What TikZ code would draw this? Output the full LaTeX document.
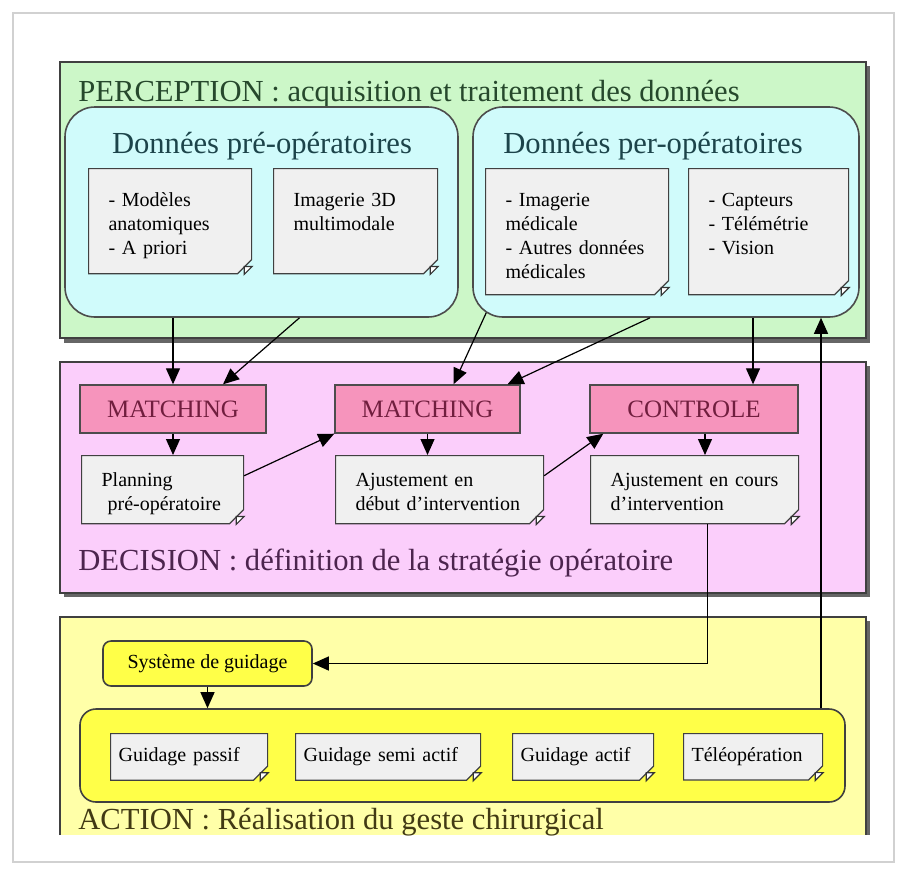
\documentclass[tikz,border=0pt]{standalone}
\usepackage{fontspec}
\setmainfont{Liberation Serif}
\usetikzlibrary{arrows.meta,shapes.misc}

\definecolor{percGreen}{RGB}{204,247,200}
\definecolor{dataCyan}{RGB}{208,251,251}
\definecolor{decPink}{RGB}{251,206,251}
\definecolor{stagePink}{RGB}{246,148,188}
\definecolor{actYellow}{RGB}{255,255,168}
\definecolor{modeYellow}{RGB}{255,255,72}
\definecolor{paperGray}{RGB}{240,240,240}
\definecolor{percText}{RGB}{38,72,44}
\definecolor{dataText}{RGB}{28,68,74}
\definecolor{decText}{RGB}{76,36,78}
\definecolor{stageText}{RGB}{112,30,62}
\definecolor{actText}{RGB}{66,58,20}

\tikzset{
  arr/.style={-{Triangle[length=8pt,width=7pt]}, line width=0.6pt},
  heading/.style={anchor=base west, inner sep=0pt, font=\fontsize{15.3}{18}\selectfont},
  notebox/.style={chamfered rectangle, chamfered rectangle corners=south east,
    chamfered rectangle xsep=4pt, draw=black!75, line width=0.6pt, fill=paperGray,
    anchor=north west, align=left, inner xsep=6pt, inner ysep=4pt,
    font=\fontsize{10}{12}\selectfont},
  stage/.style={draw=black!70, line width=0.7pt, fill=stagePink, text=stageText,
    minimum height=24pt, font=\fontsize{12.5}{14}\selectfont}
}

% page corner of a note
\newcommand{\curl}[1]{%
  \draw[black!80, fill=white, line width=0.6pt] ([xshift=-4pt]#1.south -| #1.east) -- ([yshift=4pt]#1.south -| #1.east)
    -- ([xshift=-4pt,yshift=4pt]#1.south -| #1.east) -- cycle;}

\begin{document}
\begin{tikzpicture}[x=0.5pt,y=-0.5pt]
    \useasboundingbox (0,0) rectangle (908,868);
    \fill[white] (0,0) rectangle (908,868);
    \draw[black!18, line width=1pt] (13,13) rectangle (894,862);

    % PERCEPTION
    \fill[black!60] (64,66) rectangle (870,343);
    \draw[black!75, line width=0.8pt, fill=percGreen] (60,62) rectangle (866,338);
    \node[heading, text=percText] (percT) at (78,101) {PERCEPTION : acquisition et traitement des données};

    \node[draw=black!70, line width=0.8pt, fill=dataCyan, rounded corners=15pt,
          minimum width=196.5pt, minimum height=105pt] (pre) at (261.5,212) {};
    \node[draw=black!70, line width=0.8pt, fill=dataCyan, rounded corners=15pt,
          minimum width=193pt, minimum height=105pt] (per) at (666,212) {};
    \node[anchor=base, text=dataText, font=\fontsize{15.3}{18}\selectfont] (preT) at (262,153) {Données pré-opératoires};
    \node[anchor=base, text=dataText, font=\fontsize{15.3}{18}\selectfont] (perT) at (653,153) {Données per-opératoires};

    \node[notebox, text width=61.5pt, text height=12pt, text depth=26.5pt] (anat) at (88,168) {- Modèles\\anatomiques\\- A priori};
    \node[notebox, text width=62pt, text height=12pt, text depth=26.5pt] (img3d) at (273,168) {Imagerie 3D\\multimodale};
    \node[notebox, text width=71.5pt, text height=12pt, text depth=37pt] (imgmed) at (485,168) {- Imagerie\\médicale\\- Autres données\\médicales};
    \node[notebox, text width=60pt, text height=12pt, text depth=37pt] (sens) at (688,168) {- Capteurs\\- Télémétrie\\- Vision};
    \curl{anat} \curl{img3d} \curl{imgmed} \curl{sens}

    % DECISION
    \fill[black!60] (64,366) rectangle (870,597);
    \draw[black!75, line width=0.8pt, fill=decPink] (60,362) rectangle (866,593);
    \node[heading, text=decText] (decT) at (78,570) {DECISION : définition de la stratégie opératoire};

    \node[stage, minimum width=93pt] (match1) at (173,409) {MATCHING};
    \node[stage, minimum width=92.5pt] (match2) at (427.5,409) {MATCHING};
    \node[stage, minimum width=104pt] (ctrl) at (694,409) {CONTROLE};

    \node[notebox, text width=61pt, text height=8.5pt, text depth=11.5pt] (plan) at (81,455) {Planning\\\hspace*{3pt}pré-opératoire};
    \node[notebox, text width=84pt, text height=8.5pt, text depth=11.5pt] (adjA) at (335,455) {Ajustement en\\début d'intervention};
    \node[notebox, text width=84pt, text height=8.5pt, text depth=11.5pt] (adjB) at (590,455) {Ajustement en cours\\d'intervention};
    \curl{plan} \curl{adjA} \curl{adjB}

    % ACTION
    \fill[black!60] (866,621) rectangle (870,835);
    \fill[actYellow] (60,617) rectangle (866,835);
    \draw[black!75, line width=0.8pt] (60,835) -- (60,617) -- (866,617) -- (866,835);
    \node[heading, text=actText] (actT) at (78,829) {ACTION : Réalisation du geste chirurgical};

    \node[draw=black!75, line width=0.8pt, fill=modeYellow, rounded corners=4pt,
          minimum width=104.5pt, minimum height=22.5pt, font=\fontsize{10}{12}\selectfont] (guide) at (207.5,663.5) {Système de guidage};
    \node[draw=black!75, line width=0.8pt, fill=modeYellow, rounded corners=8pt,
          minimum width=382.5pt, minimum height=46.5pt] (modes) at (462.5,755.5) {};

    \node[notebox, inner xsep=0pt, text width=70.5pt, minimum height=22pt] (passive) at (110,733) {Guidage passif};
    \node[notebox, inner xsep=0pt, text width=84.5pt, minimum height=22pt] (semi) at (295,733) {Guidage semi actif};
    \node[notebox, inner xsep=0pt, text width=62.5pt, minimum height=22pt] (active) at (512,733) {Guidage actif};
    \node[notebox, inner xsep=0pt, text width=61.5pt, minimum height=22pt] (remote) at (683,733) {Téléopération};
    \curl{passive} \curl{semi} \curl{active} \curl{remote}

    % connectors
    \draw[arr] (match1.north |- pre.south) -- (match1.north);
    \draw[arr] ([xshift=19pt]pre.south) -- ([xshift=25pt]match1.north);
    \draw[arr] ([xshift=7pt,yshift=2.5pt]per.south west) -- ([xshift=13pt]match2.north);
    \draw[arr] ([xshift=-8pt]per.south) -- ([xshift=40pt]match2.north);
    \draw[arr] ([xshift=29.5pt]ctrl.north |- per.south) -- ([xshift=29.5pt]ctrl.north);

    \draw[arr] (match1.south) -- (match1.south |- plan.north);
    \draw[arr] ([yshift=7pt]plan.east) -- (match2.south west);
    \draw[arr] (match2.south) -- (match2.south |- adjA.north);
    \draw[arr] ([yshift=7pt]adjA.east) -- ([xshift=7pt]ctrl.south west);
    \draw[arr] ([xshift=5.5pt]ctrl.south) -- ([xshift=5.5pt]ctrl.south |- adjB.north);

    \draw[arr] ([xshift=6.5pt]adjB.south) |- (guide.east);
    \draw[arr] (guide.south) -- (guide.south |- modes.north);
    \draw[arr] ([xshift=77.5pt]per.south |- modes.north) -- ([xshift=77.5pt]per.south);

\end{tikzpicture}
\end{document}
